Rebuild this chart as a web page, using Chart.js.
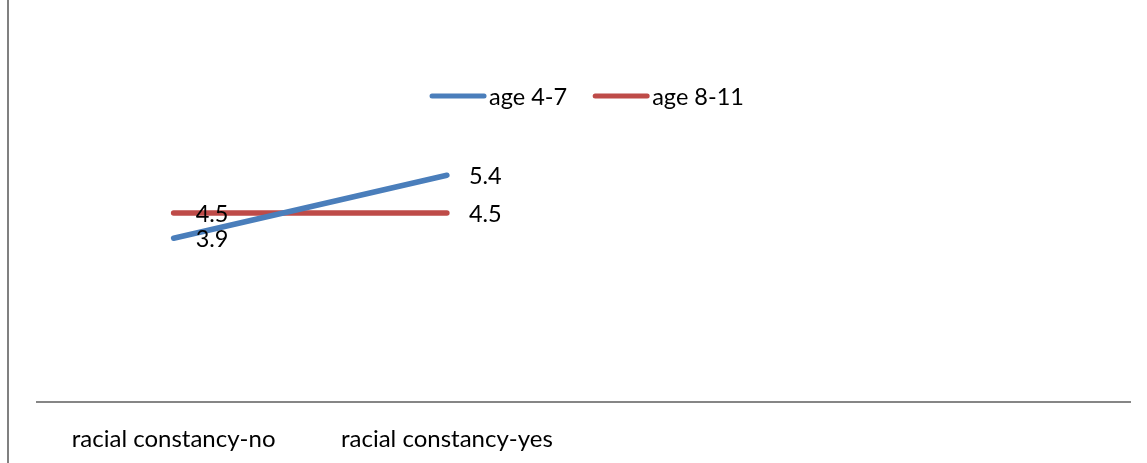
<!DOCTYPE html>
<html>
<head>
<meta charset="utf-8">
<script src="https://cdn.jsdelivr.net/npm/chart.js@4/dist/chart.umd.min.js"></script>
<style>
  html, body { margin: 0; padding: 0; background: #ffffff; }
  #wrap { position: relative; width: 1147px; height: 463px; overflow: hidden; }
  #frame { position: absolute; left: 7px; top: 0; width: 2px; height: 463px; background: #808080; }
  #chart { position: absolute; left: 0; top: 0; }
</style>
</head>
<body>
<div id="wrap">
  <div id="frame"></div>
  <canvas id="chart" width="1147" height="463"></canvas>
</div>
<script>
// Category axis: two labelled groups followed by two empty slots
const categories = ['racial constancy-no', 'racial constancy-yes', '', ''];
const seriesNames = ['age 4-7', 'age 8-11'];
const age4to7 = [3.9, 5.4];
const age8to11 = [4.5, 4.5];
const seriesColors = ['#4A7EBB', '#BE4B48'];

const FONT = 'Lato, "Liberation Sans", sans-serif';
const FONT_SIZE = 24;
const LABEL_SIZE = 23.5;

// Value labels placed to the right of each point
const valueLabels = {
  id: 'valueLabels',
  afterDatasetsDraw(chart) {
    const ctx = chart.ctx;
    ctx.save();
    ctx.font = LABEL_SIZE + 'px ' + FONT;
    ctx.fillStyle = '#000000';
    ctx.textAlign = 'left';
    ctx.textBaseline = 'middle';
    chart.data.datasets.forEach((ds, i) => {
      const meta = chart.getDatasetMeta(i);
      meta.data.forEach((pt, j) => {
        const v = ds.data[j];
        if (v == null) return;
        ctx.fillText(v.toFixed(1), pt.x + 22, pt.y + 1);
      });
    });
    ctx.restore();
  }
};

// Legend drawn inside the plot area, centred horizontally
const innerLegend = {
  id: 'innerLegend',
  afterDraw(chart) {
    const ctx = chart.ctx;
    const sample = 56, gapText = 3, gapItem = 26, y = 96;
    ctx.save();
    ctx.font = LABEL_SIZE + 'px ' + FONT;
    const items = chart.data.datasets.map(ds => ({
      label: ds.label, color: ds.borderColor, w: ctx.measureText(ds.label).width
    }));
    const total = items.reduce((s, it) => s + sample + gapText + it.w, 0) + gapItem * (items.length - 1);
    let x = 587 - total / 2;
    items.forEach(it => {
      ctx.strokeStyle = it.color;
      ctx.lineWidth = 5;
      ctx.lineCap = 'round';
      ctx.beginPath();
      ctx.moveTo(x + 2, y);
      ctx.lineTo(x + sample - 2, y);
      ctx.stroke();
      ctx.fillStyle = '#000000';
      ctx.textAlign = 'left';
      ctx.textBaseline = 'middle';
      ctx.fillText(it.label, x + sample + gapText, y + 1);
      x += sample + gapText + it.w + gapItem;
    });
    ctx.restore();
  }
};

new Chart(document.getElementById('chart'), {
  type: 'line',
  data: {
    labels: categories,
    datasets: [
      { label: seriesNames[0], data: age4to7, borderColor: seriesColors[0], backgroundColor: seriesColors[0] },
      { label: seriesNames[1], data: age8to11, borderColor: seriesColors[1], backgroundColor: seriesColors[1] }
    ]
  },
  options: {
    responsive: false,
    animation: false,
    devicePixelRatio: 1,
    layout: { padding: { left: 37, right: 17, top: 3, bottom: 0 } },
    elements: {
      line: { borderWidth: 5.5, borderCapStyle: 'round', tension: 0 },
      point: { radius: 0, hoverRadius: 0 }
    },
    plugins: {
      legend: { display: false },
      tooltip: { enabled: false }
    },
    scales: {
      x: {
        offset: true,
        grid: { display: false, drawTicks: false },
        border: { display: true, color: '#868686', width: 2 },
        ticks: {
          color: '#000000',
          font: { family: FONT, size: FONT_SIZE },
          padding: 23,
          maxRotation: 0,
          autoSkip: false
        },
        afterFit(scale) { scale.height = 61; }
      },
      y: {
        display: false,
        min: 0,
        max: 9.5
      }
    }
  },
  plugins: [valueLabels, innerLegend]
});
</script>
</body>
</html>
